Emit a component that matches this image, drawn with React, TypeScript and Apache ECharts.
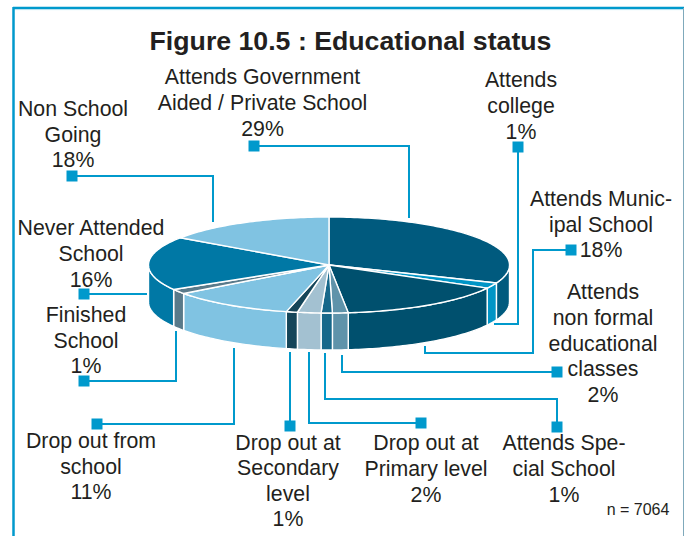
import React, { useEffect, useRef } from "react";
import * as echarts from "echarts";

// Categories and the percentages printed on the chart.
const categories = [
  "Attends Government Aided / Private School",
  "Attends college",
  "Attends Municipal School",
  "Attends non formal educational classes",
  "Attends Special School",
  "Drop out at Primary level",
  "Drop out at Secondary level",
  "Drop out from school",
  "Finished School",
  "Never Attended School",
  "Non School Going",
];
const printedPercent = [29, 1, 18, 2, 1, 2, 1, 11, 1, 16, 18];
// Slice widths as drawn in the reference (%);
// the source artwork does not draw them exactly to the printed numbers.
const drawnShare = [31.1, 1.9, 15.3, 1.4, 1.0, 2.1, 1.0, 11.1, 1.6, 18.1, 15.4];
const sliceColors = [
  "#005a7e", "#0095c6", "#00506e", "#5f93aa", "#17688a", "#a3c1d1",
  "#15465a", "#80c3e2", "#597a8a", "#0078a5", "#80c3e2",
];
const labelLines = [
  ["Attends Government", "Aided / Private School"],
  ["Attends", "college"],
  ["Attends Munic-", "ipal School"],
  ["Attends", "non formal", "educational", "classes"],
  ["Attends Spe-", "cial School"],
  ["Drop out at", "Primary level"],
  ["Drop out at", "Secondary", "level"],
  ["Drop out from", "school"],
  ["Finished", "School"],
  ["Never Attended", "School"],
  ["Non School", "Going"],
];

// Layout only
const CX = 329, CY = 265, RX = 180.5, RY = 48, DEPTH = 37;
const BLUE = "#0099cc";
const TEXT = "#231f20";
const FONT = '"Liberation Sans", Arial, sans-serif';
const labelPos: [number, number][] = [
  [262.5, 103], [521, 106], [601, 224.5], [603, 343.5], [564, 469],
  [426, 469], [288, 481], [91, 466.5], [86, 340.5], [91, 254], [73, 134.5],
];
const leaderPaths: number[][][] = [
  [[254, 146], [409, 146], [409, 218]],
  [[518, 147], [518, 324], [494, 324]],
  [[571, 250], [533, 250], [533, 353], [425, 353], [425, 346]],
  [[557, 372], [342, 372], [342, 355]],
  [[557, 427], [557, 399], [325, 399], [325, 353]],
  [[421, 423], [309, 423], [309, 352]],
  [[290, 426], [290, 352]],
  [[97, 424], [234, 424], [234, 348]],
  [[84, 381], [176, 381], [176, 331]],
  [[84, 294], [147, 294]],
  [[72, 176], [213, 176], [213, 222]],
];

const ellipsePoint = (t: number, dy = 0): number[] => [
  CX + RX * Math.cos(t),
  CY + RY * Math.sin(t) + dy,
];

function renderSlice(params: any, api: any) {
  const i = params.dataIndex;
  const before = drawnShare.slice(0, i).reduce((a, b) => a + b, 0);
  const share = api.value(0);
  const t0 = -Math.PI / 2 + (before / 100) * Math.PI * 2;
  const t1 = t0 + (share / 100) * Math.PI * 2;
  const style = { fill: sliceColors[i], stroke: "#ffffff", lineWidth: 1.4, lineJoin: "round" };

  const arc = (a: number, b: number, dy = 0) => {
    const n = Math.max(2, Math.ceil(Math.abs(b - a) / 0.02));
    const pts: number[][] = [];
    for (let k = 0; k <= n; k++) pts.push(ellipsePoint(a + ((b - a) * k) / n, dy));
    return pts;
  };

  const children: any[] = [];
  // visible wall: the part of the slice on the front half of the ellipse
  const ranges: [number, number][] = [[0, Math.PI], [Math.PI * 2, Math.PI * 3]];
  for (const [lo, hi] of ranges) {
    const a = Math.max(t0, lo);
    const b = Math.min(t1, hi);
    if (b > a) {
      children.push({
        type: "polygon",
        shape: { points: [...arc(a, b), ...arc(b, a, DEPTH)] },
        style,
      });
    }
  }
  children.push({
    type: "polygon",
    shape: { points: [[CX, CY], ...arc(t0, t1)] },
    style,
  });
  return { type: "group", children };
}

function buildGraphic() {
  const els: any[] = [];
  const line = (x1: number, y1: number, x2: number, y2: number, w: number, c: string) =>
    els.push({ type: "line", shape: { x1, y1, x2, y2 }, style: { stroke: c, lineWidth: w } });
  // frame
  line(13, 8, 684, 8, 2.5, BLUE);
  line(13, 9.6, 684, 9.6, 1, "#b5e2f1");
  line(13.5, 7, 13.5, 536, 2.5, BLUE);
  line(683.5, 8, 683.5, 536, 1, "#7fa9bb");

  leaderPaths.forEach((p) => {
    els.push({
      type: "polyline",
      shape: { points: p },
      style: { stroke: BLUE, lineWidth: 2, fill: "none" },
      z: 5,
    });
    els.push({
      type: "rect",
      shape: { x: p[0][0] - 5.5, y: p[0][1] - 5.5, width: 11, height: 11 },
      style: { fill: BLUE },
      z: 6,
    });
  });

  labelLines.forEach((lines, i) => {
    els.push({
      type: "text",
      x: labelPos[i][0],
      y: labelPos[i][1],
      z: 7,
      style: {
        text: [...lines, `${printedPercent[i]}%`].join("\n"),
        font: `21.3px ${FONT}`,
        lineHeight: 25.6,
        fill: TEXT,
        align: "center",
        verticalAlign: "middle",
      },
    });
  });
  els.push({
    type: "text",
    x: 350.5,
    y: 41,
    z: 7,
    style: {
      text: "Figure 10.5 : Educational status",
      font: `bold 26.7px ${FONT}`,
      fill: TEXT,
      align: "center",
      verticalAlign: "middle",
    },
  });
  els.push({
    type: "text",
    x: 638,
    y: 509,
    z: 7,
    style: {
      text: "n = 7064",
      font: `16px ${FONT}`,
      fill: TEXT,
      align: "center",
      verticalAlign: "middle",
    },
  });
  return els;
}

export default function App() {
  const ref = useRef<HTMLDivElement>(null);
  useEffect(() => {
    const chart = echarts.init(ref.current!, undefined, { renderer: "svg" });
    chart.setOption({
      animation: false,
      backgroundColor: "#ffffff",
      graphic: { elements: buildGraphic() },
      series: [
        {
          type: "custom",
          coordinateSystem: "none",
          silent: true,
          data: categories.map((name, i) => ({ name, value: [drawnShare[i]] })),
          renderItem: renderSlice,
        },
      ],
    });
    return () => chart.dispose();
  }, []);
  return (
    <div
      ref={ref}
      style={{ position: "fixed", left: 0, top: 0, width: 684, height: 536 }}
    />
  );
}
